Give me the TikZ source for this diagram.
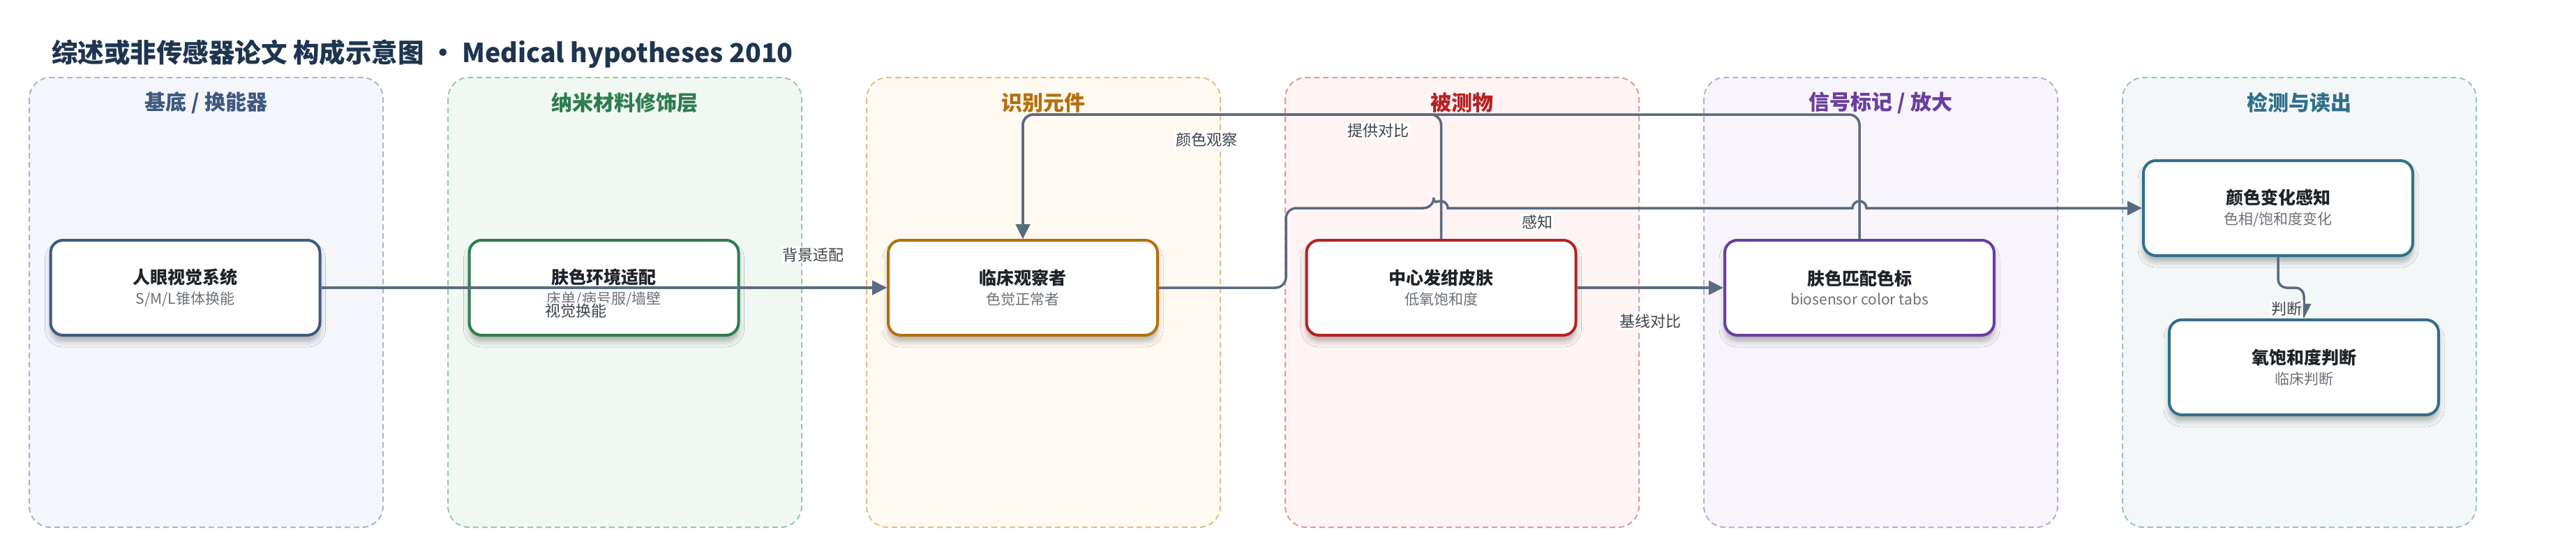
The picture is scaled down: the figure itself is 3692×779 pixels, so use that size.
\documentclass[tikz,border=0pt]{standalone}
\usepackage{fontspec}
\setmainfont{Noto Sans CJK SC}
\usetikzlibrary{arrows.meta,shadows.blur}

\definecolor{titlec}{HTML}{1E3550}
\definecolor{flowc}{HTML}{5B6B7F}
\definecolor{subc}{HTML}{6B7079}
\definecolor{lblc}{HTML}{3E434A}
\definecolor{headc}{HTML}{1F2329}
%% lane colours: text/border, lane fill, lane dash
\definecolor{baseT}{HTML}{3E5A80}\definecolor{baseF}{HTML}{F5F6FB}\definecolor{baseD}{HTML}{A9B6CB}
\definecolor{nanoT}{HTML}{2E7D4F}\definecolor{nanoF}{HTML}{F1F8F3}\definecolor{nanoD}{HTML}{9CC8A8}
\definecolor{recoT}{HTML}{B5700A}\definecolor{recoF}{HTML}{FEF9F1}\definecolor{recoD}{HTML}{E5BF85}
\definecolor{anaT}{HTML}{B52222}\definecolor{anaF}{HTML}{FEF4F3}\definecolor{anaD}{HTML}{E09A98}
\definecolor{sigT}{HTML}{6A3D9E}\definecolor{sigF}{HTML}{F7F4FC}\definecolor{sigD}{HTML}{BFA9DC}
\definecolor{readT}{HTML}{316F89}\definecolor{readF}{HTML}{F3F7F8}\definecolor{readD}{HTML}{9CC0CB}

\newcommand{\boxtext}[2]{{\bfseries\fontsize{25}{30}\selectfont\color{headc}#1}\\[8pt]{\fontsize{21}{25}\selectfont\color{subc}#2}}

\tikzset{
  lane/.style 2 args={draw=#1,fill=#2,line width=2pt,dash pattern=on 8pt off 5pt,rounded corners=30pt},
  lanetitle/.style={font=\bfseries\fontsize{30}{34}\selectfont,text=#1},
  box/.style={draw=#1,line width=4pt,fill=white,rounded corners=18pt,minimum width=386pt,minimum height=136pt,align=center,
    blur shadow={shadow xshift=0pt,shadow yshift=-9pt,shadow blur radius=8pt,shadow opacity=28}},
  flow/.style={draw=flowc,line width=3.5pt,-{Triangle[length=21pt,width=20pt]}},
  lbl/.style={fill=white,fill opacity=0.85,text opacity=1,text=lblc,font=\fontsize{22}{25}\selectfont,inner sep=2pt}
}

\begin{document}
\begin{tikzpicture}[x=1pt,y=-1pt]
    \useasboundingbox (0,0) rectangle (3692,779);
    %% Title
    \node[anchor=west,inner sep=0,text=titlec,font=\bfseries\fontsize{37.5}{42}\selectfont] (title) at (74,77) {综述或非传感器论文 构成示意图 • Medical hypotheses 2010};
    %% Lanes
    \draw[lane={baseD}{baseF}] (42,111) rectangle (549,755);
    \draw[lane={nanoD}{nanoF}] (642,111) rectangle (1149,755);
    \draw[lane={recoD}{recoF}] (1242,111) rectangle (1749,755);
    \draw[lane={anaD}{anaF}] (1842,111) rectangle (2349,755);
    \draw[lane={sigD}{sigF}] (2442,111) rectangle (2949,755);
    \draw[lane={readD}{readF}] (3042,111) rectangle (3549,755);
    \node[lanetitle=baseT] (t1) at (295.5,147) {基底 / 换能器};
    \node[lanetitle=nanoT] (t2) at (895.5,147) {纳米材料修饰层};
    \node[lanetitle=recoT] (t3) at (1495.5,147) {识别元件};
    \node[lanetitle=anaT] (t4) at (2095.5,147) {被测物};
    \node[lanetitle=sigT] (t5) at (2695.5,147) {信号标记 / 放大};
    \node[lanetitle=readT] (t6) at (3295.5,147) {检测与读出};
    %% Boxes
    \node[box=baseT] (eye) at (265.5,412) {\boxtext{人眼视觉系统}{S/M/L锥体换能}};
    \node[box=nanoT] (env) at (865.5,412) {\boxtext{肤色环境适配}{床单/病号服/墙壁}};
    \node[box=recoT] (obs) at (1466,412) {\boxtext{临床观察者}{色觉正常者}};
    \node[box=anaT] (skin) at (2065.5,412) {\boxtext{中心发绀皮肤}{低氧饱和度}};
    \node[box=sigT] (tabs) at (2665,412) {\boxtext{肤色匹配色标}{biosensor color tabs}};
    \node[box=readT] (perc) at (3265,298) {\boxtext{颜色变化感知}{色相/饱和度变化}};
    \node[box=readT] (judge) at (3302,526) {\boxtext{氧饱和度判断}{临床判断}};
    %% Arrows
    \draw[flow] (eye.east) -- node[lbl,pos=0.45,yshift=-33pt] {视觉换能} (obs.west);
    \draw[flow] (env.east) -- node[lbl,pos=0.5,yshift=47pt] {背景适配} (obs.west);
    \draw[flow,rounded corners=15pt] (skin.north) |- (obs.north |- 0,164) -- (obs.north);
    \draw[flow,rounded corners=15pt] (tabs.north) |- (obs.north |- 0,164) -- (obs.north);
    \node[lbl] (l1) at (1729,200) {颜色观察};
    \node[lbl] (l2) at (1975,187) {提供对比};
    \draw[flow,rounded corners=15pt] (obs.east) -| (1843,298) -- (2055,298) [sharp corners]
        arc[start angle=180,end angle=0,radius=10pt] -- (2655,298)
        arc[start angle=180,end angle=0,radius=10pt] -- (perc.west);
    \node[lbl] (l3) at (2203,318) {感知};
    \draw[flow] (skin.east) -- node[lbl,pos=0.5,yshift=-48pt] {基线对比} (tabs.west);
    \draw[flow,rounded corners=12pt] (perc.south) |- (judge.north |- 0,412) -- (judge.north);
    \node[lbl] (l4) at (3277,442) {判断};
\end{tikzpicture}
\end{document}
